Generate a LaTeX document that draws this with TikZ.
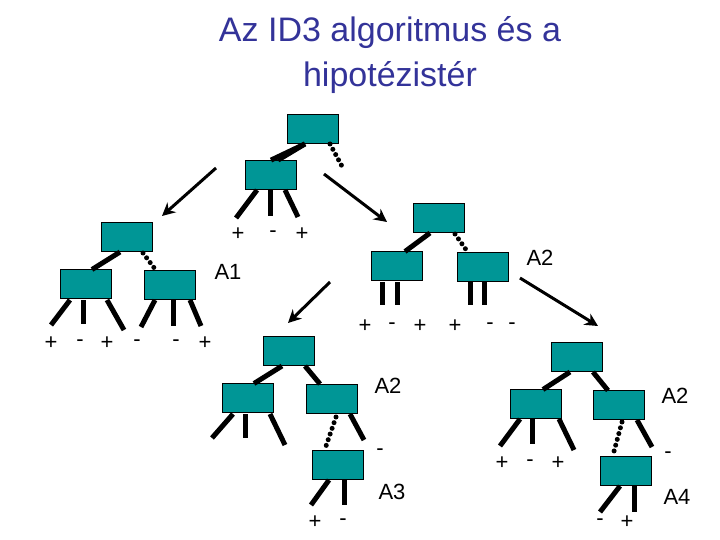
\documentclass[tikz,border=0pt]{standalone}
\usepackage{fontspec}
\setmainfont{Liberation Sans}
\usetikzlibrary{arrows.meta}
\definecolor{teal1}{RGB}{0,150,150}
\definecolor{titleblue}{RGB}{51,51,153}
\begin{document}
\begin{tikzpicture}[x=1pt,y=-1pt,
 bx/.style={draw=black,line width=0.8pt,fill=teal1,minimum width=51pt,minimum height=29pt,inner sep=0pt},
 leg/.style={line width=5pt},
 dotl/.style={line width=5pt,line cap=round,dash pattern=on 0pt off 6pt},
 arr/.style={line width=3pt,-{Stealth[length=13pt,width=13pt]}},
 lab/.style={font=\fontsize{22}{24}\selectfont,inner sep=0pt},
 pm/.style={font=\fontsize{22}{24}\selectfont,inner sep=0pt}]
\useasboundingbox (0,0) rectangle (720,540);
\node[text=titleblue,font=\fontsize{34}{45}\selectfont,align=center] (title) at (390,55) {Az ID3 algoritmus és a\\hipotézistér};
% top tree
\node[bx] (R) at (313,129) {};
\node[bx] (B) at (271,175) {};
\draw[leg] (R.south)++(-8,0) coordinate (r1) -- (B.north)++(7,0) coordinate (b0);
\draw[leg] (r1) -- (b0);
\coordinate (rd1) at (330,144); \coordinate (rd2) at (344,170);
\draw[dotl] (rd1) -- (rd2);
\coordinate (b1) at (236,218); \coordinate (b2) at (270,216); \coordinate (b3) at (298,217);
\draw[leg] (257,190) -- (b1); \draw[leg] (270,190) -- (b2); \draw[leg] (285,190) -- (b3);
\node[pm] (p1) at (238,234) {+}; \node[pm] (p2) at (273,234) {-}; \node[pm] (p3) at (302,234) {+};
\coordinate (a1s) at (216,168); \coordinate (a1e) at (162,216);
\draw[arr] (a1s) -- (a1e);
\coordinate (a2s) at (324,174); \coordinate (a2e) at (387,222);
\draw[arr] (a2s) -- (a2e);
% left tree
\node[bx] (L) at (127,237) {};
\node[bx] (LL) at (86,284) {};
\node[bx] (LR) at (170,285) {};
\draw[leg] (120,252) -- (92,269.5);
\draw[dotl] (143,253) -- (155,269);
\node[lab] (A1) at (228,272) {A1};
\draw[leg] (70,300) -- (51,325); \draw[leg] (83,300) -- (83,324); \draw[leg] (107,300) -- (124,330);
\draw[leg] (155,300) -- (141,327); \draw[leg] (173,300) -- (173,326); \draw[leg] (190,300) -- (201,326);
\foreach \x/\s [count=\i] in {51/+,80/-,107/+,137/-,176/-,205/+} \node[pm] (lp\i) at (\x,343) {\s};
% right tree
\node[bx] (M) at (439,218) {};
\node[bx] (ML) at (397,266) {};
\node[bx] (MR) at (483,267) {};
\draw[leg] (430,233) -- (405,251.5);
\draw[dotl] (455,234) -- (467,251);
\node[lab] (A2a) at (540,258) {A2};
\draw[leg] (382,282) -- (382,305) ; 
\draw[leg] (397,282) -- (397,305);
\draw[leg] (470,282) -- (470,305);
\draw[leg] (484,282) -- (484,305);
\foreach \x/\s [count=\i] in {365/+,392/-,420/+,455/+,490/-,512/-} \node[pm] (mp\i) at (\x,326) {\s};
\coordinate (a3s) at (330,282); \coordinate (a3e) at (288,323);
\draw[arr] (a3s) -- (a3e);
\coordinate (a4s) at (520,278); \coordinate (a4e) at (598,326);
\draw[arr] (a4s) -- (a4e);
% bottom left tree
\node[bx] (N) at (289,351) {};
\node[bx] (NL) at (248,398) {};
\node[bx] (NR) at (332,399) {};
\draw[leg] (282,366) -- (254,383.5);
\draw[leg] (305,366) -- (320,384);
\draw[leg] (233,414) -- (212,438); \draw[leg] (245,414) -- (245,438); \draw[leg] (270,414) -- (285,445);
\draw[dotl] (336,417) -- (325,449);
\draw[leg] (350,414) -- (364,440);
\node[pm] (nm) at (380,452) {-};
\node[lab] (A2b) at (388,386) {A2};
\node[bx] (N3) at (338,465) {};
\draw[leg] (329,480) -- (311,505); \draw[leg] (344,480) -- (344,505);
\node[pm] (n3p) at (315,522) {+}; \node[pm] (n3m) at (343,522) {-};
\node[lab] (A3) at (392,492) {A3};
% bottom right tree
\node[bx] (P) at (577,357) {};
\node[bx] (PL) at (536,404) {};
\node[bx] (PR) at (619,405) {};
\draw[leg] (570,372) -- (543,389.5);
\draw[leg] (593,372) -- (608,390.5);
\draw[leg] (520,419) -- (500,446); \draw[leg] (532,419) -- (532,444); \draw[leg] (559,419) -- (574,450);
\foreach \x/\s [count=\i] in {502/+,530/-,558/+} \node[pm] (pp\i) at (\x,463) {\s};
\draw[dotl] (622,422) -- (613,455);
\draw[leg] (637,420) -- (652,447);
\node[pm] (pm1) at (668,455) {-};
\node[lab] (A2c) at (675,396) {A2};
\node[bx] (P3) at (626,471) {};
\draw[leg] (620,486) -- (600,512); \draw[leg] (634,486) -- (634,512);
\node[pm] (p3m) at (600,522) {-}; \node[pm] (p3p) at (627,522) {+};
\node[lab] (A4) at (677,497) {A4};
\end{tikzpicture}
\end{document}
